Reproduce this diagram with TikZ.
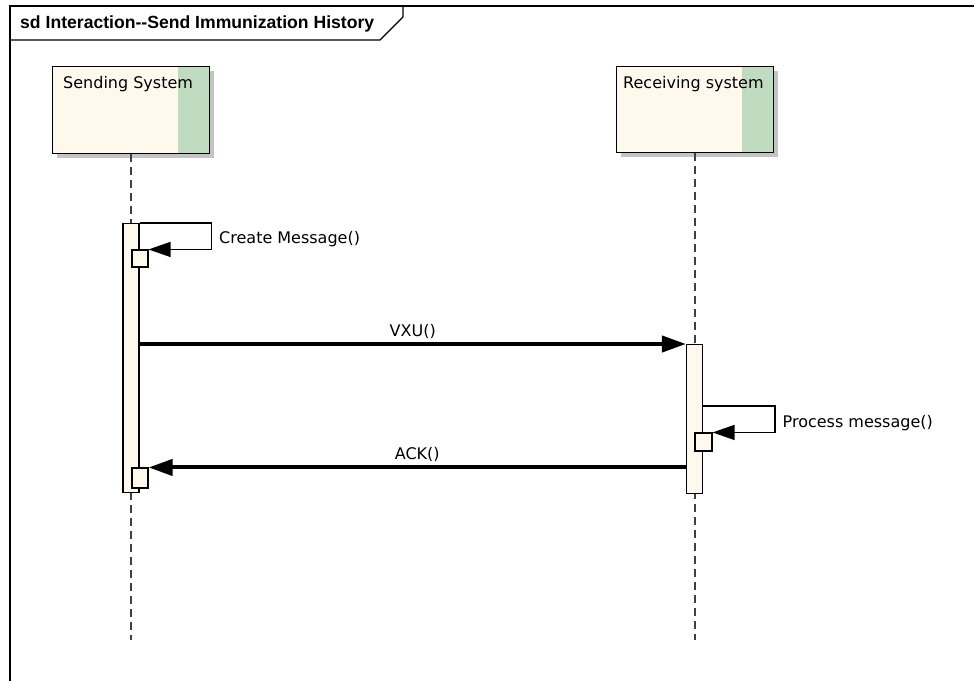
\documentclass[tikz,border=0pt]{standalone}
\usepackage{fontspec}
\setmainfont{DejaVu Sans}
\newfontfamily\titlefont{Liberation Sans}
\usetikzlibrary{arrows.meta,shadows}

\definecolor{lifefill}{HTML}{FFF8EC}
\definecolor{lifegreen}{HTML}{C0DCC0}
\definecolor{shadowgray}{HTML}{C4C4C4}
\definecolor{dashgray}{HTML}{404040}

\begin{document}
\begin{tikzpicture}[x=1pt,y=-1pt,
	lifebox/.style={draw, line width=1.3pt, fill=lifefill, anchor=north west,
		minimum width=157pt, minimum height=87pt, inner sep=0pt,
		drop shadow={shadow xshift=4pt, shadow yshift=-4pt, fill=shadowgray, opacity=1},
		path picture={\fill[lifegreen] ([xshift=-32pt]path picture bounding box.north east) rectangle (path picture bounding box.south east);}},
	lifename/.style={anchor=west, font=\fontsize{16}{18}\selectfont, inner sep=0pt},
	lifeline/.style={draw=dashgray, line width=1.4pt, dash pattern=on 8pt off 5pt},
	activebar/.style={draw, line width=1.1pt, fill=lifefill, anchor=north, minimum width=16pt, inner sep=0pt},
	callbox/.style={draw, line width=1.1pt, fill=lifefill, inner sep=0pt},
	callmsg/.style={line width=4pt, -{Triangle[length=24pt, width=16pt]}},
	selfmsg/.style={line width=1.3pt, -{Triangle[length=22pt, width=15pt]}},
	msglabel/.style={font=\fontsize{16}{18}\selectfont, inner sep=0pt}]

	\useasboundingbox (0,0) rectangle (974,681);

	\draw[line width=1.4pt] (10,681) -- (10,6) -- (974,6);
	\draw[line width=1.4pt] (10,40) -- (380,40) -- (403,17) -- (403,6);
	\node[anchor=west, inner sep=0pt, font=\titlefont\bfseries\fontsize{17.6}{19}\selectfont] (title) at (20,24) {sd Interaction--Send Immunization History};

	\node[lifebox] (send) at (52,66) {};
	\node[lifebox, minimum height=86pt] (recv) at (616,66) {};
	\node[lifename] (sendname) at (63,84) {Sending System};
	\node[lifename] (recvname) at (623,84) {Receiving system};

	\coordinate (sendend) at (send.south |- 0,640);
	\coordinate (recvend) at (recv.south |- 0,640);
	\draw[lifeline] (send.south) -- (sendend);
	\draw[lifeline] (recv.south) -- (recvend);

	\node[activebar, minimum height=269pt] (sbar) at (131,223) {};
	\node[activebar, minimum height=149pt] (rbar) at (694.5,344) {};

	\node[callbox, minimum width=16pt, minimum height=17pt] (cm) at (140,258.5) {};
	\node[callbox, minimum width=17pt, minimum height=18pt] (pm) at (703.5,442) {};
	\node[callbox, minimum width=16pt, minimum height=20pt] (ack) at (140,478) {};

	\draw[selfmsg] (sbar.north east) -- ++(72,0) |- node[msglabel, pos=0.25, anchor=west, xshift=7pt, yshift=-3pt] {Create Message()} (cm.north east);
	\draw[callmsg] (sbar.east |- rbar.north west) -- node[msglabel, above=3pt] {VXU()} (rbar.north west);
	\draw[selfmsg] ([yshift=-62pt]rbar.north east) -- ++(72,0) |- node[msglabel, pos=0.25, anchor=west, xshift=7pt, yshift=-4pt] {Process message()} (pm.north east);
	\draw[callmsg] (rbar.west |- ack.north east) -- node[msglabel, above=4pt] {ACK()} (ack.north east);

\end{tikzpicture}
\end{document}
